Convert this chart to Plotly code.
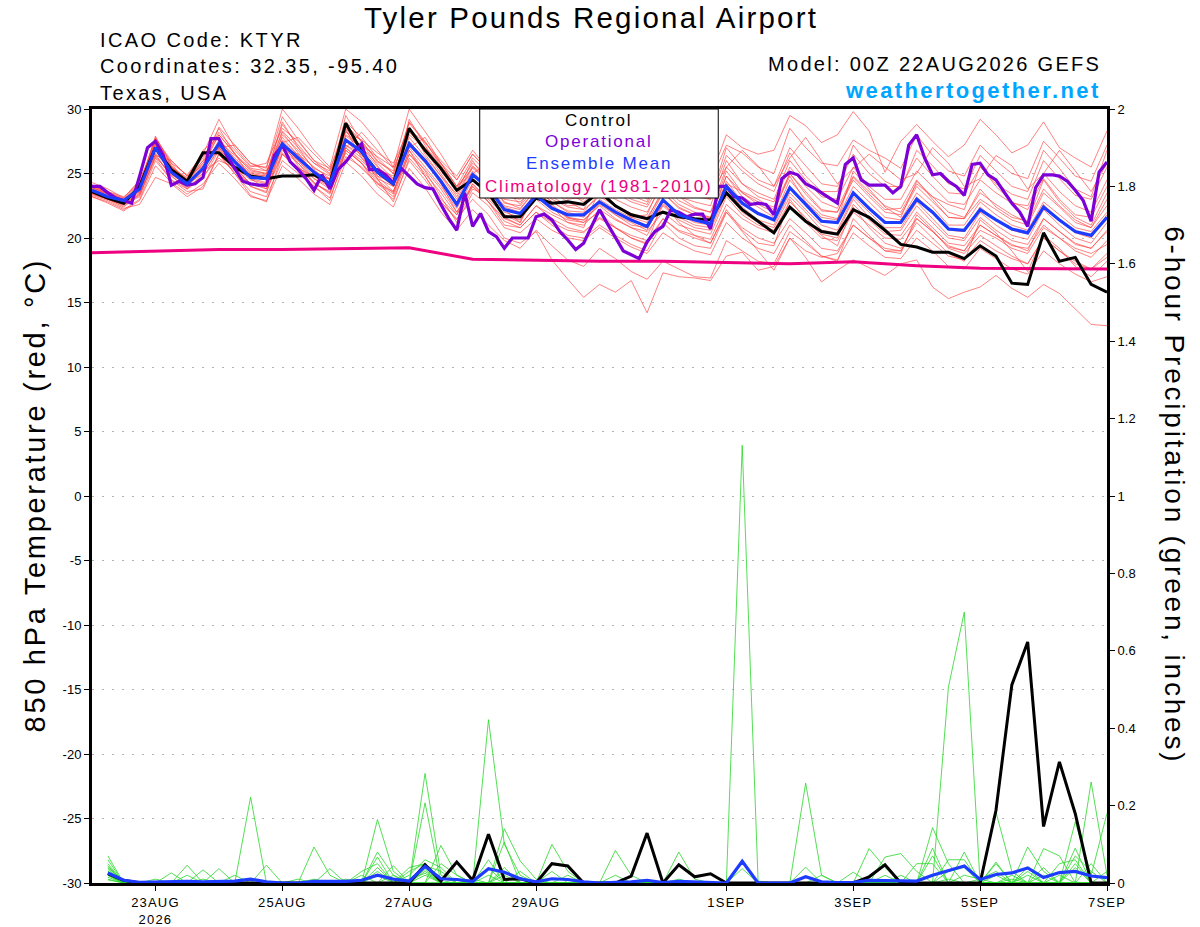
import pandas as pd
import plotly.graph_objects as go

# 6-hourly GEFS output, operational at 3 hours
times_6h = pd.date_range("2026-08-22 00:00", periods=65, freq="6h")
times_3h = pd.date_range("2026-08-22 00:00", periods=129, freq="3h")
times_precip = times_6h[1:]
times_clim = pd.date_range("2026-08-22", periods=17, freq="D")

control_temp = [23.6, 23.1, 22.7, 24.0, 27.0, 25.3, 24.4, 26.6, 26.6, 25.5, 24.8, 24.6, 24.8, 24.8, 24.9, 24.2,
                28.9, 26.7, 25.1, 24.2, 28.5, 26.8, 25.4, 23.7, 24.5, 23.5, 21.65, 21.65, 23.1, 22.7, 22.8, 22.6,
                23.6, 22.5, 21.8, 21.5, 22.0, 21.65, 21.5, 21.4, 23.5, 22.2, 21.3, 20.4, 22.4, 21.3, 20.5, 20.3,
                22.2, 21.6, 20.6, 19.5, 19.3, 18.9, 18.9, 18.4, 19.4, 18.6, 16.5, 16.4, 20.4, 18.2, 18.5, 16.4,
                15.8]

mean_temp = [23.7, 23.2, 22.9, 23.8, 27.0, 25.1, 24.2, 25.4, 27.3, 25.9, 24.7, 24.6, 27.3, 26.2, 25.1, 24.2,
             27.6, 26.7, 25.1, 24.2, 27.3, 26.0, 24.4, 22.6, 24.9, 23.9, 22.2, 21.9, 23.3, 22.3, 21.8, 21.8,
             22.8, 22.0, 21.4, 20.9, 22.95, 21.8, 21.4, 21.1, 24.0, 22.7, 21.9, 21.4, 23.9, 22.6, 21.3, 21.2,
             23.5, 22.3, 21.2, 21.2, 23.0, 22.0, 20.7, 20.6, 22.2, 21.4, 20.7, 20.4, 22.4, 21.4, 20.5, 20.2,
             21.6]

oper_temp = [24.0, 24.0, 23.5, 23.1, 22.9, 22.7, 24.8, 27.0, 27.5, 26.4, 24.1, 24.4, 24.1, 24.2, 24.7, 27.7,
             27.7, 26.4, 25.4, 24.4, 24.2, 24.1, 24.1, 26.4, 27.2, 25.9, 25.3, 24.6, 23.7, 24.9, 23.8, 25.3,
             25.9, 26.7, 27.3, 25.3, 25.3, 24.9, 24.3, 25.4, 24.8, 24.2, 23.9, 23.8, 22.6, 21.5, 20.6, 23.5,
             20.9, 21.9, 20.5, 20.1, 19.2, 20.0, 20.0, 20.0, 21.65, 21.85, 21.4, 20.5, 19.85, 19.1, 19.6, 20.9,
             22.2, 21.1, 20.1, 19.0, 18.7, 18.4, 19.7, 20.5, 20.9, 22.2, 22.0, 21.65, 21.85, 21.85, 20.7, 24.0,
             24.0, 23.2, 23.1, 22.6, 22.7, 22.6, 21.8, 24.6, 25.1, 24.9, 24.2, 23.9, 23.5, 23.1, 22.7, 25.7,
             26.2, 24.5, 24.1, 24.1, 24.1, 23.5, 24.0, 27.2, 28.0, 26.2, 24.9, 25.0, 24.4, 24.0, 23.3, 25.7,
             25.8, 24.9, 24.5, 23.6, 22.7, 22.0, 20.9, 23.9, 24.9, 24.9, 24.8, 24.4, 23.7, 22.9, 21.3, 25.1,
             25.9]

clim_temp = [18.86, 19.0, 19.1, 19.1, 19.15, 19.25, 18.35, 18.25, 18.2, 18.2, 18.1, 18.0, 18.15, 17.85, 17.65,
             17.6, 17.6]

member_temps = [
    [23.9, 23.4, 23.0, 24.0, 27.5, 25.6, 24.5, 25.8, 28.0, 26.5, 25.2, 25.0, 28.3, 27.0, 25.8, 24.9,
     28.8, 27.5, 26.0, 25.0, 28.0, 27.0, 25.8, 24.5, 26.5, 25.2, 24.3, 24.0, 26.0, 25.0, 24.5, 24.7,
     27.0, 26.0, 25.2, 24.8, 26.5, 25.5, 25.0, 24.7, 28.0, 27.0, 26.5, 26.8, 29.5, 28.7, 27.4, 28.0,
     29.8, 28.3, 25.1, 27.5, 28.8, 27.5, 26.3, 27.2, 29.2, 28.0, 26.6, 27.2, 29.0, 27.0, 26.2, 25.5, 28.3],
    [23.4, 23.0, 22.6, 23.5, 26.5, 24.8, 23.8, 24.6, 26.8, 25.4, 24.0, 23.6, 26.5, 25.5, 24.3, 23.4,
     26.8, 25.8, 24.0, 23.0, 26.0, 24.5, 22.8, 21.5, 23.0, 21.8, 20.0, 19.6, 20.5, 18.3, 16.8, 15.4,
     16.4, 15.8, 16.7, 14.2, 17.3, 17.0, 16.9, 16.7, 18.6, 18.9, 17.5, 17.8, 20.0, 19.0, 18.5, 18.8,
     21.0, 20.0, 19.2, 19.0, 21.5, 20.5, 19.3, 19.0, 21.0, 20.2, 19.5, 19.0, 21.5, 20.5, 19.6, 19.2, 20.5],
    [23.5, 23.0, 22.5, 23.3, 26.2, 24.5, 23.8, 25.0, 27.0, 25.5, 24.5, 24.2, 26.8, 25.8, 24.6, 23.8,
     27.0, 26.0, 24.8, 23.6, 26.5, 25.3, 23.8, 22.0, 24.0, 22.8, 21.5, 21.0, 22.5, 21.5, 20.8, 20.5,
     21.5, 20.8, 20.0, 19.5, 21.5, 20.5, 20.0, 19.6, 22.0, 20.5, 19.0, 17.5, 20.0, 18.5, 16.6, 17.5,
     18.3, 17.7, 17.1, 18.0, 18.3, 16.2, 15.3, 15.8, 16.2, 17.1, 16.1, 15.4, 16.4, 15.7, 14.5, 13.3, 13.2],
    [24.1, 23.6, 23.0, 24.2, 27.6, 25.8, 24.9, 26.5, 29.2, 27.0, 25.6, 25.5, 30.0, 28.5, 26.8, 25.5,
     30.0, 29.0, 27.5, 25.5, 30.0, 28.2, 26.5, 24.5, 26.5, 25.2, 23.8, 23.5, 24.8, 23.8, 23.0, 23.2,
     24.2, 23.5, 22.8, 22.4, 24.5, 23.2, 22.8, 22.5, 26.0, 24.2, 23.2, 22.8, 25.5, 24.0, 22.8, 22.3,
     24.8, 23.6, 22.5, 22.0, 24.2, 23.2, 22.0, 21.6, 23.5, 22.6, 21.8, 21.2, 23.8, 22.5, 21.4, 20.8, 22.5],
    [23.8, 23.4, 22.9, 24.0, 27.9, 25.6, 24.0, 25.2, 27.6, 26.2, 25.1, 24.9, 29.0, 27.0, 25.3, 24.3,
     29.5, 27.4, 25.6, 24.0, 28.5, 26.8, 25.0, 23.2, 25.5, 24.5, 22.8, 22.3, 23.8, 22.8, 22.1, 22.0,
     23.5, 22.4, 21.8, 21.4, 23.8, 22.6, 22.0, 21.6, 25.2, 23.5, 22.6, 22.0, 25.0, 23.6, 22.2, 22.0,
     24.7, 23.4, 22.2, 22.3, 24.5, 23.0, 21.6, 21.5, 23.8, 22.4, 21.6, 21.3, 24.5, 22.8, 21.6, 21.0, 23.5],
    [23.3, 22.9, 22.3, 22.6, 24.7, 24.2, 23.2, 24.0, 26.5, 25.0, 23.6, 23.2, 26.0, 25.0, 24.0, 23.1,
     26.3, 25.5, 24.2, 23.2, 26.5, 25.0, 23.5, 21.8, 24.0, 22.8, 21.3, 20.8, 22.0, 21.2, 20.6, 20.4,
     21.6, 20.8, 20.2, 19.8, 21.5, 20.6, 20.2, 19.9, 22.6, 21.5, 20.8, 20.4, 22.4, 21.2, 20.0, 19.8,
     22.0, 21.0, 20.0, 19.9, 21.5, 20.5, 19.4, 19.0, 20.6, 20.0, 19.2, 18.8, 20.8, 20.0, 19.0, 18.5, 19.8],
    [24.3, 23.8, 23.1, 24.5, 27.2, 25.5, 24.6, 26.0, 28.2, 26.8, 25.5, 25.8, 28.5, 27.5, 26.0, 25.0,
     28.0, 27.2, 26.3, 25.5, 28.2, 27.0, 25.6, 23.8, 25.8, 24.8, 23.0, 22.8, 24.2, 23.2, 22.5, 22.6,
     23.8, 23.0, 22.4, 22.0, 24.2, 22.9, 22.3, 22.0, 25.5, 24.2, 23.5, 23.0, 26.0, 24.5, 23.2, 23.0,
     25.5, 24.0, 23.0, 23.0, 25.2, 24.0, 22.8, 22.6, 24.5, 23.5, 22.7, 22.5, 25.0, 23.6, 22.5, 22.0, 24.5],
    [23.6, 23.1, 22.8, 23.6, 26.8, 25.0, 24.3, 25.2, 26.0, 25.5, 24.2, 24.0, 27.5, 26.0, 24.8, 24.0,
     27.2, 26.5, 24.8, 24.3, 27.0, 25.5, 24.0, 22.3, 24.5, 23.6, 21.6, 21.0, 22.5, 21.8, 21.2, 21.0,
     22.2, 21.4, 20.8, 20.2, 22.5, 21.4, 20.8, 20.6, 23.5, 22.0, 21.2, 20.8, 23.2, 22.0, 20.6, 20.4,
     23.0, 21.6, 20.5, 20.6, 22.5, 21.2, 20.0, 19.8, 21.6, 20.6, 19.8, 19.5, 21.5, 20.5, 19.5, 19.2, 20.6],
    [23.2, 22.8, 22.2, 23.0, 26.0, 24.5, 23.6, 23.8, 26.5, 25.0, 23.3, 22.8, 26.5, 25.2, 24.0, 22.9,
     26.8, 25.8, 24.5, 23.5, 27.5, 26.0, 24.5, 22.5, 25.0, 24.0, 22.5, 22.2, 23.8, 22.8, 22.0, 21.6,
     23.0, 22.2, 21.6, 21.2, 23.5, 22.4, 21.8, 21.5, 24.8, 23.2, 22.4, 21.6, 24.5, 23.0, 21.8, 21.5,
     24.0, 22.8, 21.6, 21.4, 23.5, 22.4, 21.0, 21.0, 22.8, 21.8, 21.0, 20.6, 22.8, 21.8, 20.8, 20.5, 22.0],
    [24.0, 23.5, 22.9, 23.9, 27.3, 25.3, 24.5, 26.8, 27.8, 26.0, 25.0, 24.8, 27.0, 26.5, 25.5, 24.6,
     28.5, 27.0, 25.5, 24.6, 28.6, 26.5, 24.8, 23.0, 25.2, 23.8, 22.4, 22.0, 23.5, 22.5, 21.5, 21.4,
     22.5, 21.5, 20.8, 20.5, 22.0, 21.0, 20.6, 20.3, 23.2, 21.8, 21.0, 20.6, 22.8, 21.6, 20.3, 20.0,
     22.6, 21.4, 20.3, 20.2, 22.0, 20.8, 19.6, 19.4, 21.0, 20.2, 19.4, 19.2, 21.0, 20.0, 19.2, 18.8, 19.5],
    [23.7, 23.3, 22.9, 23.7, 26.6, 25.2, 24.4, 25.8, 27.0, 25.5, 24.2, 24.0, 28.0, 26.8, 25.4, 24.8,
     27.9, 27.0, 25.8, 24.6, 27.5, 26.0, 24.2, 22.0, 24.2, 22.8, 21.0, 20.8, 22.0, 21.0, 20.2, 20.0,
     21.0, 20.2, 19.5, 19.0, 21.2, 20.0, 19.4, 19.2, 22.0, 20.8, 20.0, 19.6, 21.5, 20.4, 19.2, 19.0,
     21.0, 20.0, 19.0, 19.0, 20.6, 19.6, 18.6, 18.3, 19.8, 19.0, 18.4, 18.0, 20.0, 19.0, 18.0, 17.6, 18.8],
    [23.9, 23.4, 22.9, 24.0, 27.4, 25.5, 24.4, 25.6, 27.5, 26.4, 25.3, 25.0, 28.8, 27.2, 25.8, 25.2,
     29.0, 27.8, 26.2, 25.0, 29.0, 27.5, 25.6, 24.0, 26.2, 25.0, 23.2, 23.0, 25.0, 24.0, 23.2, 23.0,
     25.0, 24.0, 23.3, 22.8, 25.5, 24.2, 23.5, 23.0, 27.0, 25.5, 24.5, 24.0, 27.0, 25.6, 24.2, 24.0,
     26.5, 25.0, 24.0, 24.0, 26.2, 24.8, 23.5, 23.4, 25.5, 24.2, 23.4, 23.0, 26.0, 24.6, 23.3, 23.0, 25.5],
    [23.4, 23.0, 22.6, 23.2, 26.4, 24.8, 23.9, 24.8, 26.2, 25.2, 24.0, 23.5, 27.2, 25.8, 24.3, 23.5,
     27.0, 25.8, 24.3, 23.4, 26.8, 25.2, 23.2, 21.2, 23.5, 22.5, 20.8, 20.4, 21.5, 20.6, 20.0, 19.8,
     20.8, 20.0, 19.3, 18.8, 20.4, 19.6, 19.0, 18.7, 21.2, 20.0, 19.2, 18.8, 21.0, 19.8, 18.6, 18.3,
     20.4, 19.4, 18.5, 18.4, 20.0, 19.0, 17.8, 17.6, 19.2, 18.4, 17.6, 17.2, 19.0, 18.0, 17.2, 16.6, 17.0],
    [24.1, 23.5, 22.8, 23.8, 27.1, 25.4, 24.7, 26.2, 28.5, 26.5, 25.4, 25.2, 27.8, 26.4, 25.2, 24.5,
     28.3, 26.8, 25.3, 24.8, 27.8, 26.3, 24.8, 23.4, 25.6, 24.5, 22.7, 22.5, 24.0, 23.0, 22.4, 22.2,
     23.2, 22.5, 21.9, 21.6, 23.5, 22.3, 21.8, 21.6, 24.8, 23.5, 22.8, 22.4, 25.0, 23.4, 22.1, 22.0,
     24.5, 23.2, 22.0, 21.8, 24.0, 22.8, 21.6, 21.5, 23.0, 22.2, 21.4, 21.0, 23.5, 22.4, 21.2, 20.8, 23.0],
    [23.5, 23.1, 22.7, 23.6, 27.0, 25.0, 24.0, 25.4, 27.2, 26.0, 24.8, 24.5, 27.0, 26.0, 24.6, 24.0,
     27.5, 26.4, 24.6, 22.8, 26.2, 24.8, 23.0, 21.8, 24.2, 23.0, 21.8, 21.4, 23.0, 22.0, 21.4, 21.2,
     22.8, 21.8, 21.0, 20.8, 22.6, 21.6, 21.0, 20.8, 23.8, 22.4, 21.4, 21.0, 23.5, 22.2, 21.0, 20.6,
     23.2, 22.0, 20.8, 20.8, 22.8, 21.5, 20.2, 20.0, 22.0, 21.0, 20.2, 19.9, 22.2, 21.0, 20.0, 19.6, 21.2],
    [23.8, 23.2, 22.8, 23.8, 27.0, 25.3, 24.4, 26.0, 27.0, 26.0, 24.6, 24.3, 27.6, 26.4, 25.0, 24.3,
     27.2, 26.2, 25.0, 24.0, 27.2, 25.8, 24.4, 22.8, 25.0, 23.8, 22.0, 21.6, 23.2, 22.4, 21.6, 21.4,
     22.6, 21.8, 21.2, 20.6, 23.0, 21.8, 21.2, 21.0, 24.4, 22.8, 22.0, 21.5, 24.0, 22.7, 21.4, 21.2,
     23.6, 22.4, 21.2, 21.2, 23.2, 22.0, 20.6, 20.5, 22.4, 21.4, 20.6, 20.3, 22.6, 21.4, 20.4, 20.0, 21.8],
    [23.6, 23.2, 22.6, 23.4, 26.9, 25.0, 24.1, 25.5, 27.4, 26.1, 24.9, 24.8, 28.2, 26.6, 25.0, 24.6,
     28.6, 27.5, 25.9, 25.2, 28.9, 27.4, 26.0, 24.8, 26.8, 25.3, 23.9, 23.6, 25.6, 24.6, 23.9, 23.8,
     25.8, 24.9, 24.2, 23.7, 26.2, 25.0, 24.5, 24.4, 27.2, 26.6, 25.5, 25.0, 28.5, 27.0, 25.8, 25.6,
     27.6, 26.8, 26.2, 25.4, 28.0, 26.4, 25.2, 24.8, 27.2, 26.0, 25.0, 24.6, 27.5, 26.2, 24.8, 24.4, 27.2],
    [23.9, 23.5, 23.1, 24.4, 26.4, 26.0, 24.8, 26.4, 27.0, 27.2, 25.8, 25.2, 27.4, 27.8, 26.5, 25.3,
     27.0, 28.2, 26.8, 25.4, 27.0, 27.8, 25.8, 24.0, 25.0, 25.8, 23.8, 22.6, 24.5, 24.8, 23.5, 22.8,
     24.0, 25.5, 24.0, 23.0, 24.0, 25.8, 24.6, 23.4, 25.5, 26.8, 25.6, 24.0, 26.2, 27.8, 26.0, 24.2,
     25.4, 26.5, 25.5, 24.5, 25.0, 27.0, 25.8, 24.0, 24.6, 26.4, 25.6, 23.8, 25.0, 26.8, 25.2, 23.6, 25.8],
    [23.2, 22.7, 22.1, 22.9, 25.6, 24.3, 23.4, 24.2, 25.8, 24.6, 23.2, 22.9, 25.6, 24.6, 23.4, 22.6,
     25.9, 24.8, 23.4, 22.4, 25.4, 23.9, 22.0, 20.6, 22.2, 21.0, 19.8, 19.2, 20.6, 19.4, 18.3, 17.8,
     19.2, 18.4, 17.4, 16.8, 18.2, 17.6, 17.0, 16.9, 19.8, 19.0, 18.2, 18.0, 20.5, 19.6, 18.6, 18.2,
     21.5, 20.2, 19.0, 18.8, 21.8, 20.6, 19.2, 18.8, 20.2, 19.4, 18.6, 18.0, 20.0, 19.0, 18.2, 17.6, 18.5],
    [23.7, 23.2, 22.7, 23.9, 27.7, 26.0, 24.8, 25.6, 28.0, 26.6, 24.6, 23.8, 26.6, 25.4, 24.8, 24.6,
     28.4, 26.2, 24.6, 24.0, 29.2, 27.2, 25.2, 23.6, 26.0, 24.2, 22.2, 21.2, 23.9, 22.4, 21.2, 20.8,
     23.8, 22.6, 21.6, 21.8, 24.6, 23.2, 22.4, 22.0, 24.2, 23.6, 23.0, 22.2, 24.8, 22.8, 21.6, 21.4,
     25.2, 23.8, 22.4, 21.6, 24.4, 23.2, 22.6, 22.2, 25.6, 24.0, 22.8, 22.2, 24.6, 23.0, 21.8, 21.6, 24.0],
    [23.5, 23.0, 22.4, 23.4, 26.3, 24.9, 24.2, 25.0, 26.9, 25.2, 24.2, 23.8, 27.4, 25.6, 24.2, 23.6,
     26.6, 25.4, 24.2, 23.6, 26.8, 24.8, 22.8, 21.4, 23.8, 23.2, 21.8, 21.2, 23.6, 22.6, 21.6, 21.2,
     22.0, 20.8, 20.0, 19.6, 22.8, 21.2, 20.2, 19.6, 22.2, 20.6, 19.6, 19.4, 23.0, 21.4, 20.2, 19.4,
     22.4, 20.8, 19.6, 19.2, 21.2, 20.0, 18.8, 18.2, 21.4, 20.4, 19.0, 17.4, 20.2, 19.2, 17.8, 17.0, 18.2],
    [24.0, 23.6, 23.2, 24.2, 27.8, 25.8, 24.2, 25.4, 28.6, 27.2, 25.8, 25.4, 29.4, 27.6, 26.0, 25.4,
     28.2, 27.6, 26.6, 25.8, 28.4, 27.4, 25.8, 24.0, 25.4, 24.4, 23.4, 23.2, 24.6, 23.6, 22.8, 22.2,
     24.6, 23.8, 23.0, 22.6, 25.0, 24.0, 23.2, 23.0, 26.4, 25.2, 24.2, 23.6, 26.6, 24.8, 23.6, 23.6,
     27.2, 25.6, 24.4, 23.8, 26.8, 25.6, 24.2, 23.8, 26.4, 25.2, 24.0, 23.6, 26.8, 25.4, 23.8, 23.2, 26.8],
]

control_precip = [0.024, 0.007, 0, 0, 0, 0, 0, 0, 0, 0, 0, 0, 0, 0, 0, 0,
                  0, 0, 0, 0, 0.047, 0.005, 0.054, 0.007, 0.126, 0.009, 0.011, 0, 0.05, 0.044, 0, 0,
                  0, 0.018, 0.129, 0, 0.047, 0.016, 0.024, 0, 0, 0, 0, 0, 0, 0, 0, 0,
                  0.016, 0.047, 0, 0, 0, 0, 0, 0, 0.188, 0.512, 0.623, 0.146, 0.313, 0.179, 0, 0]

mean_precip = [0.026, 0.007, 0.002, 0.003, 0.003, 0.004, 0.003, 0.004, 0.005, 0.01, 0.003, 0, 0, 0.004, 0.004, 0.004,
               0.007, 0.02, 0.01, 0.005, 0.043, 0.011, 0.009, 0.004, 0.037, 0.028, 0.011, 0.003, 0.011, 0.009, 0.003, 0,
               0.002, 0.003, 0.007, 0.001, 0.004, 0.002, 0.001, 0, 0.056, 0, 0, 0, 0.016, 0.003, 0.001, 0.002,
               0.007, 0.007, 0.005, 0.005, 0.02, 0.033, 0.044, 0.009, 0.022, 0.026, 0.039, 0.014, 0.027, 0.03, 0.018, 0.014]

# non-zero 6-hour totals per member, keyed by forecast step (1 = 06Z 22AUG)
member_precip_steps = [
    {1: 0.07, 10: 0.222, 41: 1.131, 42: 0.005, 57: 0.05},
    {1: 0.05, 21: 0.283, 22: 0.02, 25: 0.02, 54: 0.506, 55: 0.70, 58: 0.02},
    {1: 0.04, 21: 0.207, 25: 0.422, 26: 0.10, 27: 0.02, 45: 0.258, 46: 0.02},
    {1: 0.03, 6: 0.046, 18: 0.164, 19: 0.03, 22: 0.097, 23: 0.02, 53: 0.143, 54: 0.05, 57: 0.183, 58: 0.03},
    {1: 0.02, 14: 0.093, 15: 0.02, 26: 0.14, 27: 0.057, 28: 0.01, 63: 0.261, 64: 0.02},
    {1: 0.035, 5: 0.026, 8: 0.037, 18: 0.08, 19: 0.02, 29: 0.10, 30: 0.03, 62: 0.158, 63: 0.02, 64: 0.18},
    {1: 0.025, 7: 0.034, 11: 0.046, 18: 0.067, 20: 0.03, 21: 0.05, 33: 0.084, 34: 0.02, 49: 0.089, 50: 0.04},
    {1: 0.015, 9: 0.02, 15: 0.037, 19: 0.045, 21: 0.04, 26: 0.106, 37: 0.08, 38: 0.01, 50: 0.067, 51: 0.076,
     52: 0.03, 60: 0.089, 61: 0.07},
    {1: 0.01, 6: 0.02, 17: 0.03, 18: 0.05, 20: 0.04, 21: 0.05, 25: 0.06, 41: 0.037, 53: 0.09, 55: 0.08,
     59: 0.093, 60: 0.03},
    {1: 0.06, 4: 0.01, 18: 0.04, 21: 0.045, 22: 0.03, 24: 0.01, 45: 0.041, 54: 0.06, 55: 0.06, 57: 0.054,
     62: 0.07, 63: 0.03},
    {1: 0.02, 14: 0.01, 19: 0.02, 21: 0.03, 27: 0.03, 33: 0.02, 48: 0.028, 52: 0.05, 53: 0.05, 61: 0.05, 62: 0.06},
    {1: 0.045, 13: 0.01, 17: 0.02, 20: 0.02, 21: 0.06, 22: 0.04, 26: 0.04, 49: 0.01, 56: 0.01, 57: 0.03,
     59: 0.04, 64: 0.03},
    {1: 0.03, 16: 0.01, 18: 0.03, 21: 0.035, 25: 0.04, 29: 0.03, 51: 0.02, 54: 0.03, 55: 0.04, 58: 0.01,
     60: 0.02, 62: 0.09},
    {1: 0.02, 7: 0.01, 18: 0.02, 22: 0.05, 23: 0.02, 30: 0.02, 46: 0.02, 53: 0.07, 59: 0.03, 61: 0.02, 63: 0.05},
    {1: 0.008, 10: 0.01, 21: 0.02, 26: 0.03, 37: 0.01, 50: 0.02, 55: 0.02, 56: 0.01, 60: 0.04, 62: 0.05},
    {1: 0.04, 2: 0.005, 20: 0.01, 21: 0.025, 23: 0.01, 26: 0.02, 54: 0.01, 57: 0.02, 59: 0.02, 62: 0.04},
]

temp_ticks = [30, 25, 20, 15, 10, 5, 0, -5, -10, -15, -20, -25, -30]
date_ticks = ["2026-08-23", "2026-08-25", "2026-08-27", "2026-08-29", "2026-09-01", "2026-09-03",
              "2026-09-05", "2026-09-07"]
date_labels = ["23AUG<br>2026", "25AUG", "27AUG", "29AUG", "1SEP", "3SEP", "5SEP", "7SEP"]

RED = "rgba(255,60,60,0.8)"
GREEN = "rgb(40,215,40)"
BLACK = "black"
PURPLE = "rgb(125,0,215)"
BLUE = "rgb(30,60,255)"
PINK = "rgb(238,0,128)"
FONT = "Liberation Sans"


def steps_to_series(steps):
    vals = [0.0] * len(times_precip)
    for step, amount in steps.items():
        vals[step - 1] = amount
    return vals


def spaced(text, px):
    # the original lettering is widely tracked
    return '<span style="letter-spacing:%spx">%s</span>' % (px, text)


fig = go.Figure()

for m in member_temps:
    fig.add_trace(go.Scatter(x=times_6h, y=m, mode="lines", line=dict(color=RED, width=0.8),
                             hoverinfo="skip", showlegend=False))

for steps in member_precip_steps:
    fig.add_trace(go.Scatter(x=times_precip, y=steps_to_series(steps), yaxis="y2", mode="lines",
                             line=dict(color=GREEN, width=0.8), hoverinfo="skip", showlegend=False))

fig.add_trace(go.Scatter(x=times_clim, y=clim_temp, mode="lines", line=dict(color=PINK, width=3), showlegend=False))
fig.add_trace(go.Scatter(x=times_6h, y=control_temp, mode="lines", line=dict(color=BLACK, width=3), showlegend=False))
fig.add_trace(go.Scatter(x=times_3h, y=oper_temp, mode="lines", line=dict(color=PURPLE, width=3.2), showlegend=False))
fig.add_trace(go.Scatter(x=times_6h, y=mean_temp, mode="lines", line=dict(color=BLUE, width=3.2), showlegend=False))

fig.add_trace(go.Scatter(x=times_precip, y=control_precip, yaxis="y2", mode="lines",
                         line=dict(color=BLACK, width=3), showlegend=False))
fig.add_trace(go.Scatter(x=times_precip, y=mean_precip, yaxis="y2", mode="lines",
                         line=dict(color=BLUE, width=3.2), showlegend=False))

fig.update_layout(
    width=1200, height=927,
    margin=dict(l=92, r=93, t=109, b=44),
    paper_bgcolor="white", plot_bgcolor="white",
    font=dict(family=FONT, color="black", size=13),
    showlegend=False,
    xaxis=dict(
        type="date", range=["2026-08-22 00:00", "2026-09-07 00:00"],
        tickvals=date_ticks, ticktext=[spaced(t, 1.2) for t in date_labels], tickfont=dict(size=13),
        ticks="outside", ticklen=5, tickwidth=1, tickcolor="black",
        showgrid=False, zeroline=False, automargin=False,
        showline=True, linewidth=3, linecolor="black", mirror=True,
    ),
    yaxis=dict(
        range=[-30, 30], tickvals=temp_ticks, ticktext=[str(t) for t in temp_ticks],
        tickfont=dict(size=13), ticks="outside", ticklen=5, tickwidth=1, tickcolor="black",
        showgrid=True, gridcolor="#b4b4b4", gridwidth=1, griddash="2px,8px", automargin=False,
        zeroline=False, showline=True, linewidth=3, linecolor="black",
    ),
    yaxis2=dict(
        range=[0, 2], dtick=0.2, overlaying="y", side="right",
        tickfont=dict(size=13), ticks="outside", ticklen=5, tickwidth=1, tickcolor="black",
        showgrid=False, zeroline=False, automargin=False,
        showline=True, linewidth=3, linecolor="black",
    ),
)

# legend box drawn over the spaghetti, like the original
fig.add_shape(type="rect", xref="paper", yref="paper", x0=0.382, x1=0.617, y0=0.885, y1=1.0,
              fillcolor="white", line=dict(color="black", width=1), layer="above")

legend_items = [("Control", BLACK, 0.9845), ("Operational", PURPLE, 0.9574),
                ("Ensemble Mean", BLUE, 0.9302), ("Climatology (1981-2010)", PINK, 0.9005)]
for text, color, ypos in legend_items:
    fig.add_annotation(x=0.4995, y=ypos, xref="paper", yref="paper", text=spaced(text, 1.8), showarrow=False,
                       font=dict(size=17, color=color, family=FONT), xanchor="center", yanchor="middle")

header = [
    ("Tyler Pounds Regional Airport", 0.4916, 1.1176, "center", 29.5, 2.2, "black"),
    ("ICAO Code: KTYR", 0.0059, 1.089, "left", 20, 2.4, "black"),
    ("Coordinates: 32.35, -95.40", 0.0059, 1.0556, "left", 20, 2.4, "black"),
    ("Texas, USA", 0.0059, 1.0207, "left", 20, 2.4, "black"),
    ("Model: 00Z 22AUG2026 GEFS", 0.996, 1.0581, "right", 20, 2.3, "black"),
    ("<b>weathertogether.net</b>", 0.996, 1.0245, "right", 22, 2.4, "rgb(0,165,255)"),
]
for text, xpos, ypos, anchor, size, track, color in header:
    fig.add_annotation(x=xpos, y=ypos, xref="paper", yref="paper", text=spaced(text, track), showarrow=False,
                       font=dict(size=size, color=color, family=FONT), xanchor=anchor, yanchor="middle")

fig.add_annotation(x=-0.056, y=0.501, xref="paper", yref="paper",
                   text=spaced("850 hPa Temperature (red, °C)", 2.7),
                   showarrow=False, textangle=-90, font=dict(size=29, family=FONT),
                   xanchor="center", yanchor="middle")
fig.add_annotation(x=1.067, y=0.501, xref="paper", yref="paper",
                   text=spaced("6-hour Precipitation (green, inches)", 2.8),
                   showarrow=False, textangle=90, font=dict(size=28, family=FONT),
                   xanchor="center", yanchor="middle")

# page margin off so the 1200x927 figure fills the window exactly
fig.write_html("out.html", config={"displayModeBar": False},
               post_script="document.body.style.margin='0';")
